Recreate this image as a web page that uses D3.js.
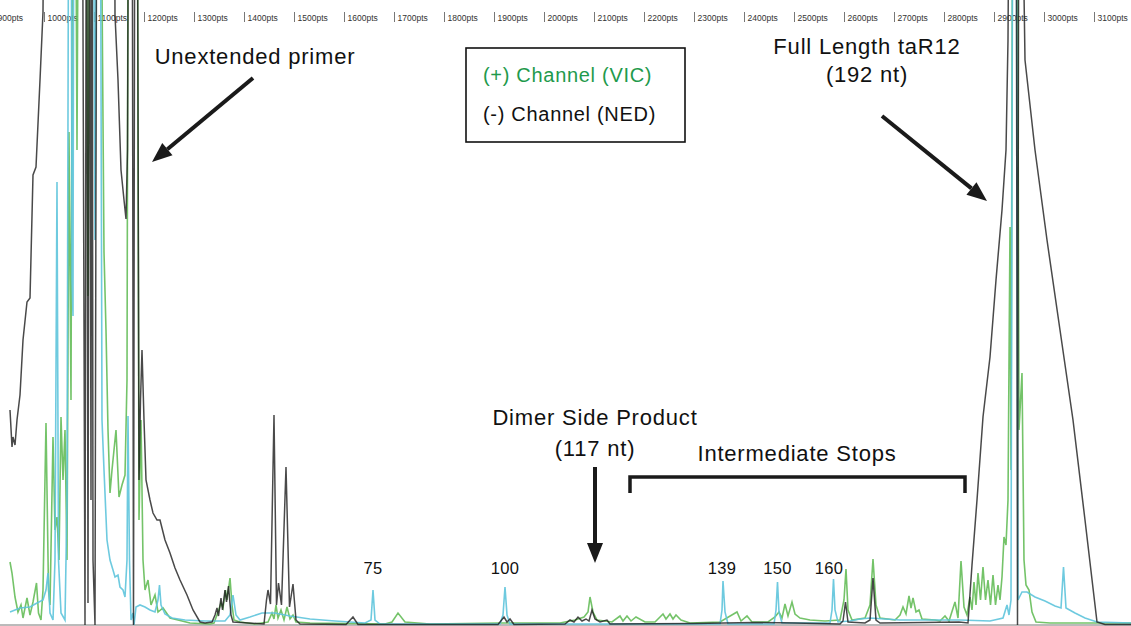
<!DOCTYPE html>
<html>
<head>
<meta charset="utf-8">
<script src="https://cdn.jsdelivr.net/npm/d3@7"></script>
<style>
  html, body { margin: 0; padding: 0; background: #fff; }
  svg { display: block; }
  text { font-family: "Liberation Sans", Arial, Helvetica, sans-serif; }
</style>
</head>
<body>
<svg id="chart"></svg>
<script>
// scan points (pts) vs signal (RFU)
const scanTicks = d3.range(900, 3101, 100)

// (+) channel, VIC
const vicTrace = [
  [932,630],[936,520],[942,280],[948,130],[954,200],[958,70],[966,270],[972,100],[978,230],[985,420],
  [989,120],[994,50],[998,350],[1004,2020],[1009,350],[1012,200],[1018,1880],[1022,950],[1026,1080],[1030,650],
  [1034,2080],[1038,1450],[1042,1950],[1046,650],[1050,4930],[1054,2250],[1058,9000],[1062,9000],[1066,4750],[1070,9000],
  [1084,9000],[1088,3290],[1092,9000],[1112,9000],[1120,3730],[1124,2950],[1128,1950],[1132,1320],[1136,1550],[1144,1950],
  [1150,1280],[1156,1400],[1162,1500],[1166,2450],[1169,9000],[1186,9000],[1190,1050],[1194,2050],[1198,650],[1202,350],
  [1208,450],[1214,200],[1222,300],[1228,130],[1238,170],[1252,70],[1268,50],[1292,20],[1332,10],[1340,20],
  [1348,130],[1354,220],[1358,170],[1363,350],[1366,250],[1372,470],[1376,200],[1380,50],[1392,30],[1422,10],
  [1448,30],[1456,120],[1460,60],[1464,200],[1468,70],[1474,150],[1480,50],[1486,180],[1492,60],[1498,100],
  [1504,30],[1532,20],[1682,10],[1696,30],[1708,120],[1722,30],[1772,10],[1912,20],[2032,20],[2062,50],
  [2080,80],[2088,130],[2092,280],[2098,130],[2106,50],[2136,30],[2152,90],[2158,40],[2166,90],[2174,40],
  [2184,80],[2202,30],[2222,30],[2238,110],[2244,60],[2252,110],[2258,60],[2264,100],[2274,50],[2292,20],
  [2352,30],[2386,130],[2394,40],[2406,90],[2416,30],[2448,30],[2462,80],[2470,130],[2476,70],[2482,210],
  [2488,90],[2496,230],[2502,110],[2512,70],[2532,50],[2562,40],[2592,50],[2600,250],[2604,560],[2608,150],
  [2616,50],[2642,70],[2652,200],[2658,660],[2664,200],[2672,70],[2702,50],[2712,100],[2718,180],[2724,110],
  [2730,290],[2734,170],[2738,270],[2744,130],[2750,150],[2756,60],[2782,50],[2792,40],[2802,90],[2810,40],
  [2822,230],[2828,70],[2834,640],[2840,180],[2846,100],[2852,280],[2856,150],[2860,430],[2864,200],[2868,520],
  [2873,250],[2878,580],[2883,250],[2888,450],[2893,200],[2898,500],[2903,200],[2908,400],[2912,250],[2916,480],
  [2920,880],[2924,800],[2928,1250],[2932,3980],[2934,1550],[2938,9000],[2946,9000],[2950,1950],[2956,2520],[2960,650],
  [2964,400],[2970,350],[2976,130],[2984,30],[3012,20],[3174,20]
]

// (-) channel, NED
const nedTrace = [
  [932,2150],[936,1780],[938,1880],[942,1800],[946,2050],[952,2300],[958,2850],[966,3230],[972,3270],[978,4500],
  [984,4580],[992,5450],[998,6130],[1002,9000],[1076,9000],[1082,0],[1085,9000],[1088,220],[1091,9000],[1094,1250],
  [1096,9000],[1098,650],[1102,0],[1106,9000],[1140,9000],[1142,6100],[1148,5450],[1154,4550],[1160,4250],[1164,4060],
  [1167,4750],[1170,9000],[1176,9000],[1179,0],[1182,9000],[1186,9000],[1190,1450],[1193,2250],[1196,2750],[1200,2050],
  [1204,1450],[1212,1250],[1218,1120],[1226,1050],[1232,1050],[1242,850],[1252,720],[1262,570],[1272,450],[1286,300],
  [1298,150],[1312,30],[1322,20],[1336,30],[1342,100],[1346,170],[1349,90],[1354,270],[1357,150],[1362,350],
  [1365,230],[1369,390],[1374,100],[1378,30],[1440,10],[1445,250],[1448,350],[1453,210],[1460,2100],[1465,200],
  [1469,420],[1475,200],[1484,1580],[1491,180],[1498,410],[1504,50],[1512,10],[1604,5],[1618,80],[1628,5],
  [1908,5],[1920,80],[1926,30],[1932,60],[1940,5],[2042,10],[2052,50],[2060,30],[2068,80],[2076,40],
  [2084,60],[2090,40],[2096,150],[2102,60],[2112,30],[2126,50],[2132,10],[2300,15],[2420,25],[2500,20],
  [2592,10],[2598,40],[2603,230],[2608,30],[2642,20],[2652,50],[2658,470],[2664,50],[2672,20],[2760,25],
  [2830,30],[2848,20],[2856,600],[2866,1250],[2878,2080],[2892,2680],[2904,3450],[2916,4150],[2924,4750],[2928,5850],
  [2932,9000],[2944,9000],[2947,0],[2950,9000],[2952,9000],[2962,5650],[2982,4750],[3006,3850],[3032,2950],[3058,2050],
  [3082,1050],[3106,30],[3122,5],[3174,5]
]

// size standard (LIZ)
const lizTrace = [
  [932,130],[952,170],[972,180],[986,220],[998,250],[1004,350],[1008,520],[1012,120],[1018,50],[1022,650],
  [1026,4430],[1029,650],[1034,120],[1042,50],[1046,1250],[1050,9000],[1054,9000],[1056,3450],[1058,3090],[1060,9000],
  [1098,9000],[1102,3850],[1106,9000],[1112,9000],[1116,2050],[1120,1550],[1126,850],[1132,650],[1138,550],[1142,480],
  [1148,500],[1152,380],[1158,350],[1162,280],[1166,650],[1168,2090],[1171,650],[1174,50],[1178,120],[1180,0],
  [1184,180],[1192,200],[1202,180],[1212,150],[1222,130],[1228,250],[1231,400],[1234,200],[1242,110],[1256,70],
  [1282,50],[1322,40],[1362,40],[1372,100],[1378,300],[1384,100],[1392,50],[1412,80],[1436,120],[1462,120],
  [1492,90],[1532,60],[1582,40],[1642,20],[1654,50],[1658,350],[1662,50],[1672,10],[1912,10],[1918,100],
  [1922,380],[1926,100],[1932,10],[2352,10],[2356,150],[2358,440],[2362,130],[2368,10],[2460,10],[2464,150],
  [2467,430],[2470,130],[2476,20],[2572,20],[2576,150],[2579,460],[2582,150],[2588,30],[2612,40],[2632,60],
  [2652,70],[2682,60],[2712,50],[2772,50],[2832,50],[2892,40],[2918,70],[2926,200],[2930,100],[2934,250],
  [2938,9000],[2944,9000],[2948,250],[2956,330],[2966,330],[2982,280],[3002,240],[3022,190],[3034,170],[3039,580],
  [3044,170],[3062,120],[3082,70],[3106,30],[3174,20]
]

// size standard peaks that are labelled (nt, scan point)
const sizeLabels = ['75', '100', '139', '150', '160']
const sizePeaks = [1658, 1922, 2356, 2467, 2570]

const legendLabels = ['(+) Channel (VIC)', '(-) Channel (NED)']

const width = 1131
const height = 626
const baseY = 625

const svg = d3.select('#chart')
    .attr('width', width)
    .attr('height', height)

const x = d3.scaleLinear().domain([912, 3174]).range([0, width])
const y = d3.scaleLinear().domain([0, 6250]).range([baseY, 0])

svg.append('defs').append('clipPath').attr('id', 'plot')
    .append('rect').attr('x', 0).attr('y', 0).attr('width', width).attr('height', baseY + 1)

// top scan axis
const axis = svg.append('g')
    .attr('transform', 'translate(0,22)')
    .call(d3.axisTop(x).tickValues(scanTicks).tickSize(10).tickFormat(d => d + 'pts'))
axis.select('.domain').remove()
axis.selectAll('.tick line').attr('stroke', '#555').attr('stroke-width', 0.8)
axis.selectAll('.tick text')
    .attr('text-anchor', 'start')
    .attr('x', 3)
    .attr('y', -1)
    .attr('dy', 0)
    .attr('fill', '#333')
    .style('font-size', '8.5px')

// baseline
svg.append('line')
    .attr('x1', 0).attr('x2', width)
    .attr('y1', baseY).attr('y2', baseY)
    .attr('stroke', '#777').attr('stroke-width', 1)

const line = d3.line().x(d => x(d[0])).y(d => y(d[1]))

const traces = svg.append('g').attr('clip-path', 'url(#plot)')

traces.append('path').datum(vicTrace)
    .attr('d', line).attr('fill', 'none')
    .attr('stroke', '#5cb84f').attr('stroke-opacity', 0.85).attr('stroke-width', 1.6)

traces.append('path').datum(lizTrace)
    .attr('d', line).attr('fill', 'none')
    .attr('stroke', '#5ec4dc').attr('stroke-opacity', 0.9).attr('stroke-width', 1.6)

traces.append('path').datum(nedTrace)
    .attr('d', line).attr('fill', 'none')
    .attr('stroke', '#1c1c1c').attr('stroke-opacity', 0.8).attr('stroke-width', 1.5)

// size standard labels
svg.selectAll('.size')
    .data(sizeLabels)
    .enter()
    .append('text')
    .attr('class', 'size')
    .attr('x', (d, i) => x(sizePeaks[i]))
    .attr('y', 574)
    .attr('text-anchor', 'middle')
    .style('font-size', '16.5px')
    .style('letter-spacing', '0.4px')
    .attr('fill', '#111')
    .text(d => d)

// legend
svg.append('rect')
    .attr('x', 466).attr('y', 48).attr('width', 219).attr('height', 94)
    .attr('fill', '#fff').attr('stroke', '#111').attr('stroke-width', 1.6)
svg.selectAll('.legend')
    .data(legendLabels)
    .enter()
    .append('text')
    .attr('x', 483)
    .attr('y', (d, i) => 82 + i * 39)
    .attr('fill', (d, i) => i === 0 ? '#1f9a4c' : '#111')
    .style('font-size', '20px')
    .style('letter-spacing', '0.7px')
    .text(d => d)

// annotations
const note = svg.append('g')
    .style('font-size', '22px')
    .style('letter-spacing', '0.8px')
    .attr('fill', '#111')
    .attr('text-anchor', 'middle')

note.append('text').attr('x', 255).attr('y', 64).text('Unextended primer')
note.append('text').attr('x', 867).attr('y', 54).text('Full Length taR12')
note.append('text').attr('x', 867).attr('y', 82).text('(192 nt)')
note.append('text').attr('x', 595).attr('y', 425).text('Dimer Side Product')
note.append('text').attr('x', 595).attr('y', 456).text('(117 nt)')
note.append('text').attr('x', 797).attr('y', 461).text('Intermediate Stops')

function arrow(x1, y1, x2, y2) {
    const a = Math.atan2(y2 - y1, x2 - x1)
    const len = 20, half = 8
    const bx = x2 - len * Math.cos(a), by = y2 - len * Math.sin(a)
    svg.append('line')
        .attr('x1', x1).attr('y1', y1).attr('x2', bx).attr('y2', by)
        .attr('stroke', '#1a1a1a').attr('stroke-width', 4)
    svg.append('path')
        .attr('d', `M${x2},${y2}L${bx + half * Math.sin(a)},${by - half * Math.cos(a)}L${bx - half * Math.sin(a)},${by + half * Math.cos(a)}Z`)
        .attr('fill', '#1a1a1a')
}
arrow(253, 78, 152, 162)
arrow(882, 116, 987, 201)
arrow(595, 467, 595, 563)

svg.append('path')
    .attr('d', 'M630,493V477H965V493')
    .attr('fill', 'none').attr('stroke', '#1a1a1a').attr('stroke-width', 3.5)
</script>
</body>
</html>
